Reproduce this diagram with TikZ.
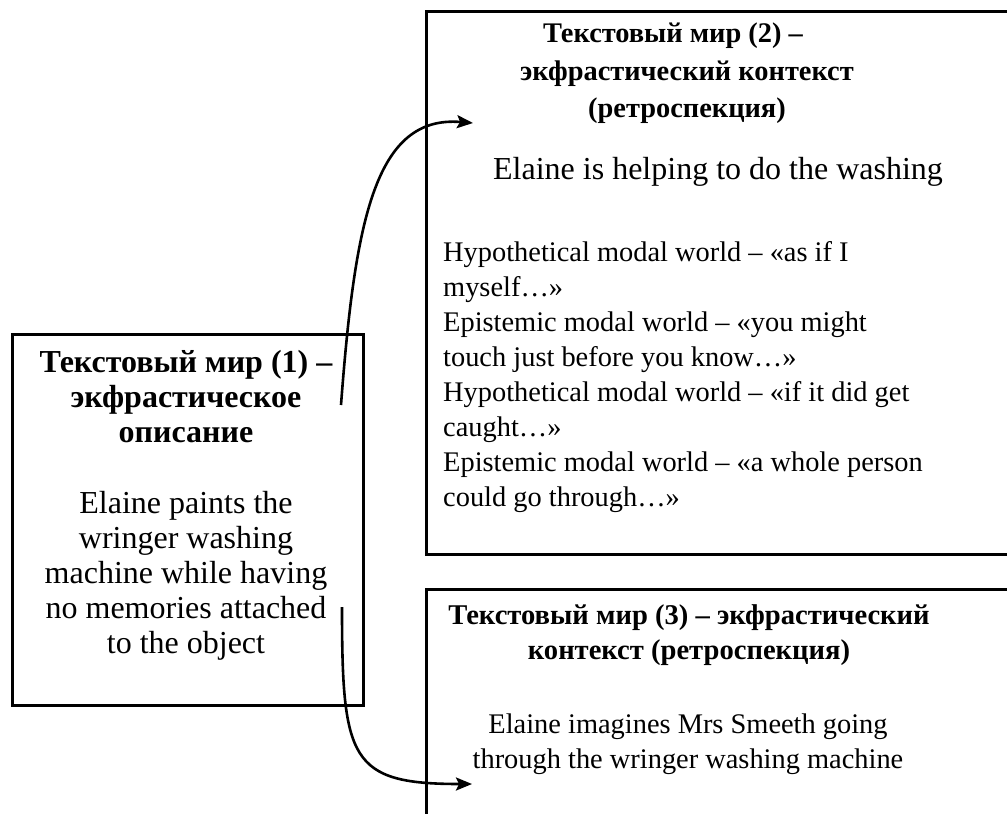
\documentclass[tikz,border=0pt]{standalone}
\usepackage{fontspec}
\setmainfont{Liberation Serif}
\usetikzlibrary{arrows.meta}

\begin{document}
\begin{tikzpicture}[x=1pt,y=-1pt,
  frame/.style={draw=black, line width=3pt, inner sep=0pt, anchor=north west},
  title/.style={font=\fontsize{#1}{35}\selectfont\bfseries, align=center, inner sep=0pt, anchor=north},
  body/.style={font=\fontsize{#1}{35}\selectfont, align=center, inner sep=0pt, anchor=north},
  link/.style={line width=2.6pt, -{Stealth[length=16pt,width=13pt,inset=3pt]}}]
\useasboundingbox (0,0) rectangle (1007,814);
\fill[white] (0,0) rectangle (1007,814);
\clip (0,0) rectangle (1007,814);

% frames of the three text worlds (the right-hand ones run past the page edge)
\node[frame, minimum width=351pt, minimum height=371pt] (w1) at (11,333) {};
\node[frame, minimum width=620pt, minimum height=543pt] (w2) at (425,10) {};
\node[frame, minimum width=620pt, minimum height=300pt] (w3) at (425,588) {};

% world 1
\node[title=32] (t1) at (186,350) {Текстовый мир (1) –\\экфрастическое\\описание};
\node[body=32] (b1) at (186,491) {Elaine paints the\\wringer washing\\machine while having\\no memories attached\\to the object};

% world 2
\node[title=28.4, font=\fontsize{28.4}{37.5}\selectfont\bfseries] (t2) at (687,23) {Текстовый мир (2) –\hspace*{28pt}\\экфрастический контекст\\(ретроспекция)};
\node[body=32] (b2) at (718,157) {Elaine is helping to do the washing};
\node[body=28.4, align=left, anchor=north west] (m2) at (443,241) {Hypothetical modal world – «as if I\\myself…»\\Epistemic modal world – «you might\\touch just before you know…»\\Hypothetical modal world – «if it did get\\caught…»\\Epistemic modal world – «a whole person\\could go through…»};

% world 3
\node[title=28.6] (t3) at (689,604) {Текстовый мир (3) – экфрастический\\контекст (ретроспекция)};
\node[body=28.4] (b3) at (688,714) {Elaine imagines Mrs Smeeth going\\through the wringer washing machine};

% connectors
\coordinate (s1) at (341,405);
\coordinate (e1) at (473,123);
\coordinate (s2) at (342,607);
\coordinate (e2) at (472,784);
\draw[link] (s1) .. controls (355,220) and (375,115) .. (e1);
\draw[link] (s2) .. controls (342,760) and (350,784) .. (e2);
\end{tikzpicture}
\end{document}
